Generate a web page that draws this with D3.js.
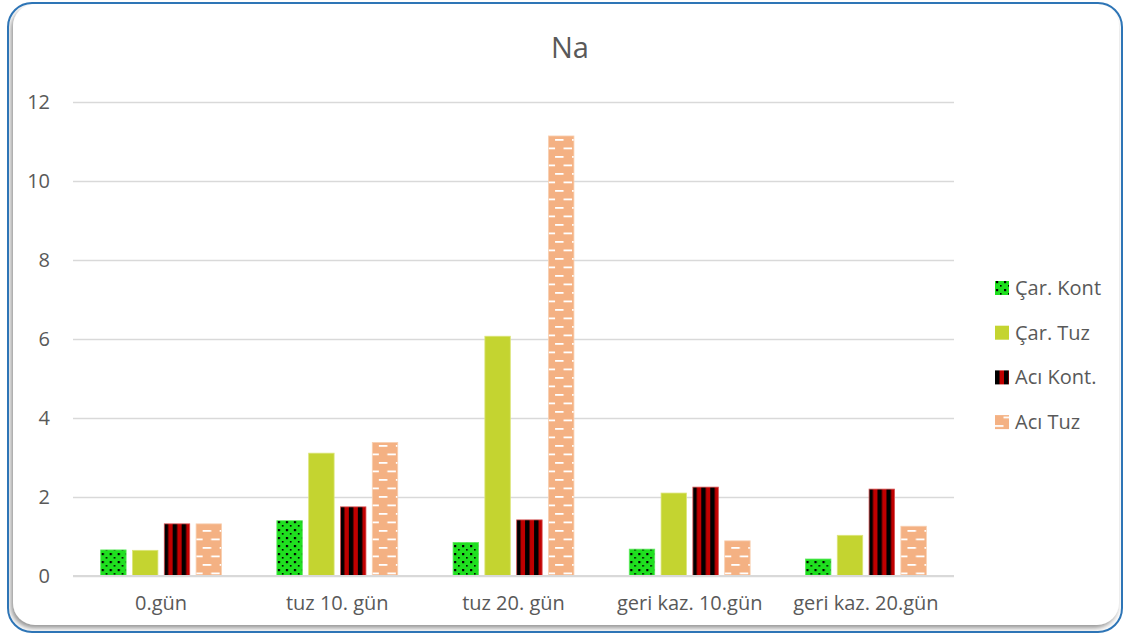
<!DOCTYPE html>
<html>
<head>
<meta charset="utf-8">
<script src="https://cdn.jsdelivr.net/npm/d3@7/dist/d3.min.js"></script>
<style>
  html, body { margin: 0; padding: 0; background: #ffffff; }
  svg { display: block; }
  text { font-family: "Open Sans", "DejaVu Sans", sans-serif; fill: #595959; }
</style>
</head>
<body>
<svg id="chart" width="1126" height="636"></svg>
<script>
// Sodium (Na) values per sampling day
const categories = ["0.gün", "tuz 10. gün", "tuz 20. gün", "geri kaz. 10.gün", "geri kaz. 20.gün"];
const seriesNames = ["Çar. Kont", "Çar. Tuz", "Acı Kont.", "Acı Tuz"];
const carKont = [0.66, 1.40, 0.85, 0.68, 0.43];
const carTuz  = [0.65, 3.11, 6.07, 2.10, 1.03];
const aciKont = [1.32, 1.75, 1.42, 2.25, 2.20];
const aciTuz  = [1.32, 3.38, 11.14, 0.89, 1.26];
const yTicks = [0, 2, 4, 6, 8, 10, 12];
const title = "Na";

const seriesValues = [carKont, carTuz, aciKont, aciTuz];
const fills = ["url(#pDots)", "#c4d430", "url(#pStripes)", "url(#pDashes)"];
const edges = ["#5fe85f", "#dce57a", "#d85050", "#f8cfb0"];

const W = 1126, H = 636;
const svg = d3.select("#chart");
const defs = svg.append("defs");

// Fill patterns
const pDots = defs.append("pattern").attr("id", "pDots")
  .attr("patternUnits", "userSpaceOnUse").attr("width", 8).attr("height", 8);
pDots.append("rect").attr("width", 8).attr("height", 8).attr("fill", "#1fe01f");
pDots.append("rect").attr("x", 1).attr("y", 1).attr("width", 2.2).attr("height", 2.2).attr("fill", "#000");
pDots.append("rect").attr("x", 5).attr("y", 5).attr("width", 1.6).attr("height", 1.6).attr("fill", "#000");

const pStripes = defs.append("pattern").attr("id", "pStripes")
  .attr("patternUnits", "userSpaceOnUse").attr("width", 9).attr("height", 9);
pStripes.append("rect").attr("width", 9).attr("height", 9).attr("fill", "#c00000");
pStripes.append("rect").attr("x", 0).attr("width", 4.5).attr("height", 9).attr("fill", "#000");

const pDashes = defs.append("pattern").attr("id", "pDashes")
  .attr("patternUnits", "userSpaceOnUse").attr("width", 17).attr("height", 17);
pDashes.append("rect").attr("width", 17).attr("height", 17).attr("fill", "#f4b183");
pDashes.append("rect").attr("x", 0).attr("y", 3).attr("width", 8.5).attr("height", 1.8).attr("fill", "#fff");
pDashes.append("rect").attr("x", 8.5).attr("y", 11.5).attr("width", 8.5).attr("height", 1.8).attr("fill", "#fff");

// Card frame with soft inner shadow
const shadow = defs.append("filter").attr("id", "cardShadow")
  .attr("x", "-5%").attr("y", "-5%").attr("width", "110%").attr("height", "110%");
shadow.append("feDropShadow").attr("dx", -2).attr("dy", 3).attr("stdDeviation", 2.5)
  .attr("flood-color", "#7f7f7f").attr("flood-opacity", 0.85);
defs.append("clipPath").attr("id", "frameClip")
  .append("rect").attr("x", 8).attr("y", 3).attr("width", 1114).attr("height", 629).attr("rx", 24);

svg.append("rect").attr("x", 8).attr("y", 3).attr("width", 1114).attr("height", 629)
  .attr("rx", 24).attr("fill", "#ffffff");
svg.append("g").attr("clip-path", "url(#frameClip)")
  .append("rect").attr("x", 13).attr("y", 4).attr("width", 1106).attr("height", 621)
  .attr("rx", 22).attr("fill", "#ffffff").attr("filter", "url(#cardShadow)");
svg.append("rect").attr("x", 8).attr("y", 3).attr("width", 1114).attr("height", 629)
  .attr("rx", 24).attr("fill", "none").attr("stroke", "#2e75b6").attr("stroke-width", 2);

// Scales
const plot = { left: 73, right: 954, top: 102, bottom: 576 };
const x0 = d3.scaleBand().domain(categories).range([plot.left, plot.right])
  .paddingInner(0.314).paddingOuter(0.157);
const x1 = d3.scaleBand().domain(seriesNames).range([0, x0.bandwidth()])
  .paddingInner(0.2).paddingOuter(0);
const y = d3.scaleLinear().domain([0, 12]).range([plot.bottom, plot.top]);

// Gridlines and y labels
const yAxis = d3.axisLeft(y).tickValues(yTicks).tickSize(-(plot.right - plot.left)).tickPadding(23);
const gy = svg.append("g").attr("transform", `translate(${plot.left},0)`).call(yAxis);
gy.select(".domain").remove();
gy.selectAll(".tick line").attr("stroke", "#d9d9d9").attr("stroke-width", 1.5);
gy.selectAll(".tick text").attr("font-size", 20).attr("fill", "#595959")
  .style("font-family", "'Open Sans', sans-serif");

// Bars
const groups = svg.append("g").selectAll("g").data(categories).join("g")
  .attr("transform", d => `translate(${x0(d)},0)`);
groups.selectAll("rect")
  .data((c, ci) => seriesNames.map((s, si) => ({ s, si, v: seriesValues[si][ci] })))
  .join("rect")
  .attr("x", d => x1(d.s))
  .attr("y", d => y(d.v))
  .attr("width", x1.bandwidth())
  .attr("height", d => y(0) - y(d.v))
  .attr("fill", d => fills[d.si])
  .attr("stroke", d => edges[d.si])
  .attr("stroke-width", 0.8);

// Baseline and category labels
const xAxis = d3.axisBottom(x0).tickSize(0).tickPadding(20);
const gx = svg.append("g").attr("transform", `translate(0,${plot.bottom})`).call(xAxis);
gx.select(".domain").attr("stroke", "#d9d9d9").attr("stroke-width", 1.8)
  .attr("d", `M${plot.left},0H${plot.right}`);
gx.selectAll(".tick text").attr("font-size", 20).attr("fill", "#595959")
  .style("font-family", "'Open Sans', sans-serif");

// Title
svg.append("text").attr("x", 570).attr("y", 58).attr("text-anchor", "middle")
  .attr("font-size", 29).text(title);

// Legend
const legend = svg.append("g").selectAll("g").data(seriesNames).join("g")
  .attr("transform", (d, i) => `translate(995,${288 + i * 44.7})`);
legend.append("rect").attr("x", 0).attr("y", -7).attr("width", 14).attr("height", 14)
  .attr("fill", (d, i) => fills[i]);
legend.append("text").attr("x", 20).attr("y", 0).attr("dy", "0.35em")
  .attr("font-size", 20).text(d => d);
</script>
</body>
</html>
